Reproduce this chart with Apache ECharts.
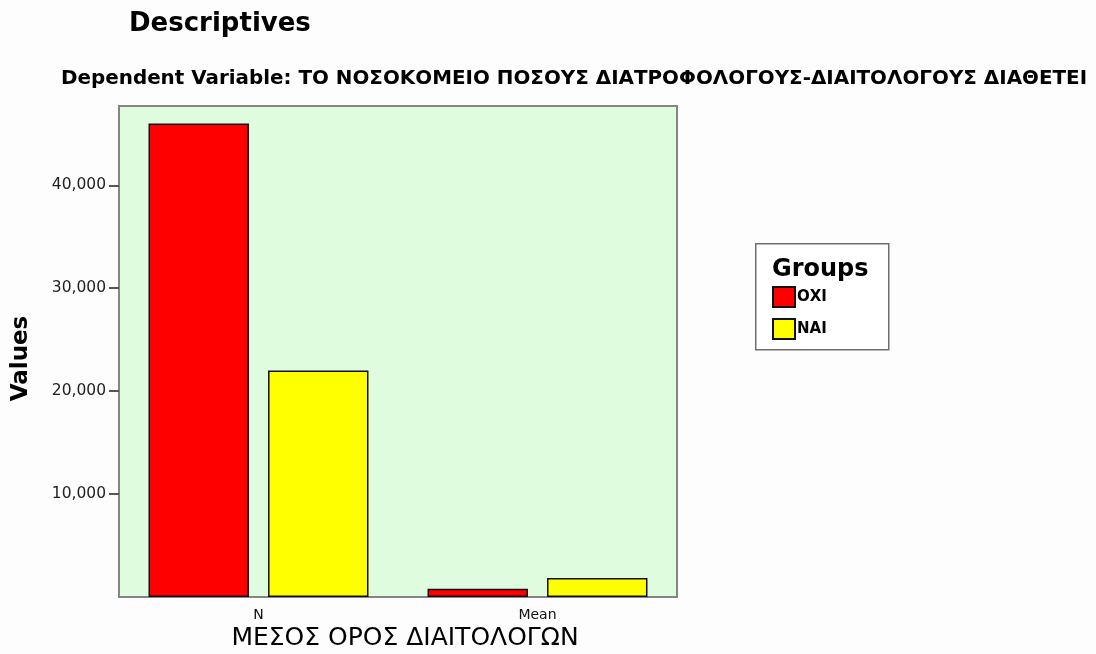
<!DOCTYPE html>
<html>
<head>
<meta charset="utf-8">
<script src="https://cdn.jsdelivr.net/npm/echarts@6/dist/echarts.min.js"></script>
<style>
  html, body { margin: 0; padding: 0; background: #fdfdfd; }
  #chart { width: 1096px; height: 654px; }
</style>
</head>
<body>
<div id="chart"></div>
<script>
// Statistics shown on the category axis
const categories = ['N', 'Mean'];
// Group names (legend)
const groups = ['ΟΧΙ', 'ΝΑΙ'];
// Values per group, in category order
const valuesOxi = [46, 0.81];
const valuesNai = [22, 1.85];
// Labelled ticks on the value axis
const yTicks = [10, 20, 30, 40];
const yMax = 47.7;

const FONT = '"DejaVu Sans", sans-serif';
const fmt = v => v.toFixed(3).replace('.', ',');

const chart = echarts.init(document.getElementById('chart'));
chart.setOption({
  backgroundColor: '#fdfdfd',
  animation: false,
  title: [
    {
      text: 'Descriptives',
      left: 124, top: 6,
      textStyle: { fontFamily: FONT, fontWeight: 'bold', fontSize: 26, color: '#000' }
    },
    {
      text: 'Dependent Variable: ΤΟ ΝΟΣΟΚΟΜΕΙΟ ΠΟΣΟΥΣ ΔΙΑΤΡΟΦΟΛΟΓΟΥΣ-ΔΙΑΙΤΟΛΟΓΟΥΣ ΔΙΑΘΕΤΕΙ',
      left: 56, top: 64,
      textStyle: { fontFamily: FONT, fontWeight: 'bold', fontSize: 19.9, color: '#000' }
    }
  ],
  grid: {
    left: 119, right: 419, top: 106, bottom: 57,
    outerBoundsMode: 'none',
    containLabel: false,
    show: true, backgroundColor: '#dffcdf', borderColor: '#858585', borderWidth: 2
  },
  legend: {
    orient: 'vertical',
    left: 772, top: 286,
    itemWidth: 22, itemHeight: 20, itemGap: 10,
    icon: 'rect',
    padding: 0,
    data: groups,
    textStyle: { fontFamily: FONT, fontWeight: 'bold', fontSize: 15, color: '#000', padding: [0, 0, 0, -3] }
  },
  graphic: [
    {
      type: 'rect', left: 755, top: 243, z: 0,
      shape: { width: 133, height: 106 },
      style: { fill: '#ffffff', stroke: '#6e6e6e', lineWidth: 1.5 }
    },
    {
      type: 'text', left: 772, top: 258, z: 1,
      style: { text: 'Groups', fontFamily: FONT, fontWeight: 'bold', fontSize: 24, fill: '#000' }
    }
  ],
  xAxis: {
    type: 'category',
    data: categories,
    name: 'ΜΕΣΟΣ ΟΡΟΣ ΔΙΑΙΤΟΛΟΓΩΝ',
    nameLocation: 'middle',
    nameGap: 29,
    nameMoveOverlap: false,
    nameTextStyle: { fontFamily: FONT, fontSize: 25, color: '#000', padding: [0, 0, 0, 14] },
    axisLine: { lineStyle: { color: '#858585', width: 2 } },
    axisTick: { alignWithLabel: true, length: 9, lineStyle: { color: '#555', width: 2 } },
    axisLabel: { fontFamily: FONT, fontSize: 14, color: '#111', margin: 11 }
  },
  yAxis: {
    type: 'value',
    min: 0, max: yMax, interval: 10,
    name: 'Values',
    nameLocation: 'middle',
    nameGap: 86,
    nameMoveOverlap: false,
    nameTextStyle: { fontFamily: FONT, fontWeight: 'bold', fontSize: 23, color: '#000', padding: [0, 0, 0, -14] },
    splitLine: { show: false },
    axisLine: { show: true, lineStyle: { color: '#858585', width: 2 } },
    axisTick: { show: true, length: 10, customValues: yTicks, lineStyle: { color: '#555', width: 2 } },
    axisLabel: {
      fontFamily: FONT, fontSize: 15.5, color: '#222', margin: 13,
      customValues: yTicks,
      formatter: fmt
    }
  },
  series: [
    {
      name: groups[0], type: 'bar', data: valuesOxi,
      barWidth: '36%', barGap: '19%',
      itemStyle: { color: '#ff0000', borderColor: '#111', borderWidth: 1.5 }
    },
    {
      name: groups[1], type: 'bar', data: valuesNai,
      barWidth: '36%',
      itemStyle: { color: '#ffff00', borderColor: '#111', borderWidth: 1.5 }
    }
  ]
});
</script>
</body>
</html>
